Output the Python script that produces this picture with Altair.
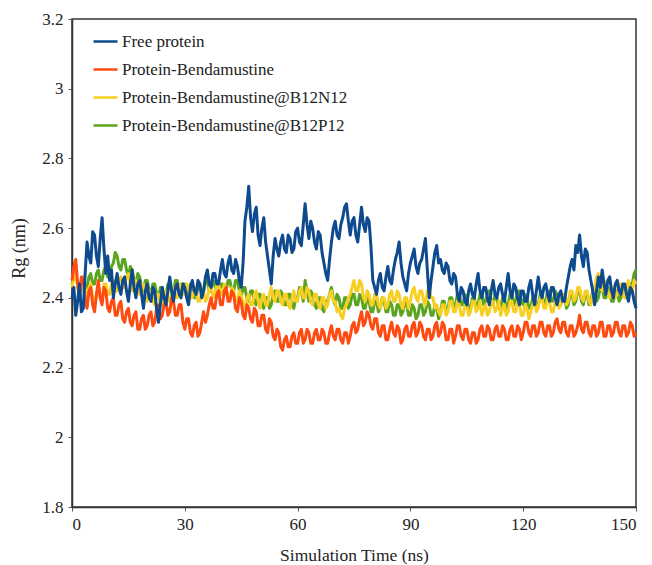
import altair as alt
import pandas as pd

series_names = [
    "Free protein",
    "Protein-Bendamustine",
    "Protein-Bendamustine@B12N12",
    "Protein-Bendamustine@B12P12",
]
series_colors = ["#0E4A8E", "#FF4A12", "#F6CF22", "#5BA420"]

free_protein = [
    2.40, 2.43, 2.35, 2.39, 2.44, 2.36, 2.37, 2.47,
    2.56, 2.52, 2.50, 2.59, 2.58, 2.52, 2.49, 2.57,
    2.63, 2.54, 2.47, 2.52,
    2.45, 2.48, 2.40, 2.44, 2.47, 2.43, 2.41, 2.45, 2.46, 2.42,
    2.39, 2.44, 2.48, 2.43, 2.40, 2.44, 2.45, 2.41, 2.37, 2.42,
    2.44, 2.40, 2.39, 2.43, 2.42, 2.37, 2.33, 2.38, 2.43, 2.40,
    2.38, 2.42, 2.46, 2.42, 2.39, 2.43, 2.44, 2.41, 2.40, 2.44,
    2.43, 2.40, 2.38, 2.43, 2.45, 2.42, 2.41, 2.45, 2.44, 2.40,
    2.42, 2.46, 2.48, 2.44, 2.43, 2.47, 2.47, 2.44, 2.44, 2.48,
    2.51, 2.47, 2.46, 2.50, 2.52, 2.48, 2.47, 2.51, 2.49, 2.45,
    2.43, 2.50, 2.62, 2.66, 2.72, 2.63, 2.59, 2.64, 2.66, 2.58,
    2.55, 2.60, 2.63, 2.56, 2.52, 2.48, 2.44, 2.52, 2.57, 2.54,
    2.52, 2.56, 2.58, 2.54, 2.53, 2.58, 2.57, 2.53, 2.54, 2.59,
    2.60, 2.56, 2.55, 2.61, 2.67, 2.61, 2.57, 2.62, 2.60, 2.56,
    2.54, 2.59, 2.58, 2.53, 2.50, 2.47, 2.45, 2.51, 2.56, 2.60,
    2.62, 2.58, 2.57, 2.61, 2.63, 2.66, 2.67, 2.62, 2.58, 2.62,
    2.63, 2.58, 2.56, 2.61, 2.66, 2.61, 2.59, 2.63, 2.62, 2.55,
    2.45, 2.43, 2.41, 2.45, 2.47, 2.43, 2.42, 2.46, 2.49, 2.45,
    2.44, 2.48, 2.51, 2.53, 2.56, 2.50, 2.46, 2.44, 2.42, 2.47,
    2.50, 2.52, 2.54, 2.49, 2.47, 2.50, 2.51, 2.54, 2.57, 2.48,
    2.40, 2.45, 2.49, 2.53, 2.55, 2.50, 2.51, 2.48, 2.47, 2.50,
    2.49, 2.45, 2.44, 2.47, 2.46, 2.41, 2.39, 2.43, 2.42, 2.39,
    2.38, 2.42, 2.44, 2.41, 2.40, 2.44, 2.47, 2.42, 2.40, 2.43,
    2.43, 2.40, 2.38, 2.42, 2.45, 2.41, 2.40, 2.43, 2.44, 2.41,
    2.39, 2.43, 2.47, 2.42, 2.40, 2.44, 2.43, 2.40, 2.38, 2.42,
    2.42, 2.39, 2.39, 2.43, 2.45, 2.41, 2.38, 2.42, 2.46, 2.42,
    2.40, 2.43, 2.44, 2.41, 2.39, 2.43, 2.43, 2.40, 2.38, 2.41,
    2.42, 2.39, 2.39, 2.43, 2.46, 2.49, 2.51, 2.48, 2.55, 2.53,
    2.58, 2.52, 2.49, 2.54, 2.53, 2.48, 2.45, 2.42, 2.38, 2.42,
    2.46, 2.43, 2.48, 2.44, 2.41, 2.45, 2.46, 2.42, 2.40, 2.44,
    2.45, 2.42, 2.41, 2.44, 2.44, 2.41, 2.39, 2.43, 2.42, 2.39,
    2.37,
]

protein_bendamustine = [
    2.45, 2.49, 2.51, 2.44, 2.40, 2.46, 2.45, 2.39, 2.37, 2.42,
    2.43, 2.38, 2.36, 2.41, 2.45, 2.40, 2.38, 2.43, 2.42, 2.37,
    2.36, 2.39, 2.40, 2.35, 2.35, 2.38, 2.39, 2.34, 2.33, 2.36,
    2.37, 2.33, 2.32, 2.35, 2.36, 2.31, 2.31, 2.34, 2.35, 2.31,
    2.32, 2.35, 2.36, 2.32, 2.33, 2.37, 2.38, 2.34, 2.35, 2.38,
    2.39, 2.35, 2.36, 2.40, 2.39, 2.35, 2.35, 2.38, 2.38, 2.33,
    2.31, 2.34, 2.34, 2.30, 2.29, 2.32, 2.33, 2.29, 2.30, 2.33,
    2.36, 2.33, 2.35, 2.38, 2.40, 2.37, 2.37, 2.41, 2.42, 2.38,
    2.38, 2.42, 2.43, 2.39, 2.39, 2.42, 2.41, 2.37, 2.36, 2.40,
    2.39, 2.35, 2.34, 2.38, 2.37, 2.34, 2.33, 2.37, 2.36, 2.32,
    2.32, 2.35, 2.35, 2.31, 2.30, 2.34, 2.33, 2.29, 2.28, 2.31,
    2.30, 2.26, 2.25, 2.28, 2.29, 2.26, 2.26, 2.29, 2.30, 2.27,
    2.27, 2.30, 2.31, 2.27, 2.28, 2.31, 2.30, 2.27, 2.27, 2.30,
    2.31, 2.28, 2.28, 2.31, 2.30, 2.27, 2.27, 2.30, 2.32, 2.29,
    2.28, 2.31, 2.31, 2.28, 2.27, 2.30, 2.30, 2.27, 2.29, 2.32,
    2.33, 2.30, 2.31, 2.34, 2.36, 2.32, 2.33, 2.36, 2.35, 2.32,
    2.31, 2.34, 2.34, 2.30, 2.29, 2.32, 2.32, 2.28, 2.28, 2.31,
    2.33, 2.30, 2.29, 2.32, 2.31, 2.27, 2.28, 2.31, 2.32, 2.29,
    2.29, 2.32, 2.33, 2.29, 2.30, 2.33, 2.32, 2.29, 2.28, 2.31,
    2.31, 2.28, 2.29, 2.32, 2.33, 2.29, 2.30, 2.33, 2.32, 2.28,
    2.28, 2.31, 2.31, 2.27, 2.29, 2.32, 2.32, 2.29, 2.28, 2.31,
    2.31, 2.28, 2.27, 2.30, 2.30, 2.27, 2.28, 2.31, 2.32, 2.29,
    2.29, 2.32, 2.31, 2.28, 2.28, 2.31, 2.32, 2.29, 2.29, 2.32,
    2.31, 2.28, 2.28, 2.31, 2.32, 2.29, 2.29, 2.32, 2.31, 2.28,
    2.30, 2.33, 2.33, 2.30, 2.29, 2.32, 2.32, 2.29, 2.30, 2.33,
    2.33, 2.30, 2.29, 2.32, 2.32, 2.29, 2.30, 2.33, 2.34, 2.31,
    2.30, 2.33, 2.33, 2.30, 2.29, 2.32, 2.32, 2.29, 2.30, 2.32,
    2.35, 2.31, 2.30, 2.33, 2.33, 2.30, 2.29, 2.32, 2.32, 2.29,
    2.30, 2.33, 2.33, 2.29, 2.29, 2.32, 2.32, 2.29, 2.30, 2.33,
    2.33, 2.30, 2.29, 2.32, 2.32, 2.29, 2.30, 2.33, 2.32, 2.29,
    2.30,
]

b12n12 = [
    2.43, 2.46, 2.47, 2.43, 2.41, 2.45, 2.46, 2.42, 2.40, 2.43,
    2.44, 2.40, 2.38, 2.41, 2.43, 2.40, 2.40, 2.44, 2.44, 2.41,
    2.41, 2.44, 2.45, 2.42, 2.42, 2.45, 2.46, 2.43, 2.43, 2.46,
    2.47, 2.44, 2.42, 2.45, 2.45, 2.42, 2.41, 2.44, 2.44, 2.40,
    2.39, 2.42, 2.42, 2.39, 2.38, 2.41, 2.41, 2.38, 2.38, 2.41,
    2.42, 2.39, 2.39, 2.42, 2.43, 2.40, 2.40, 2.43, 2.44, 2.41,
    2.41, 2.44, 2.43, 2.40, 2.40, 2.43, 2.42, 2.39, 2.39, 2.42,
    2.42, 2.39, 2.40, 2.43, 2.43, 2.40, 2.41, 2.44, 2.44, 2.41,
    2.41, 2.44, 2.43, 2.40, 2.40, 2.43, 2.42, 2.39, 2.39, 2.42,
    2.41, 2.38, 2.37, 2.40, 2.41, 2.38, 2.38, 2.41, 2.42, 2.39,
    2.37, 2.40, 2.41, 2.38, 2.38, 2.41, 2.43, 2.40, 2.39, 2.42,
    2.42, 2.39, 2.38, 2.41, 2.41, 2.38, 2.37, 2.40, 2.42, 2.39,
    2.39, 2.42, 2.43, 2.40, 2.40, 2.43, 2.42, 2.39, 2.38, 2.41,
    2.41, 2.38, 2.37, 2.40, 2.40, 2.37, 2.38, 2.41, 2.42, 2.39,
    2.39, 2.36, 2.37, 2.35, 2.34, 2.37, 2.38, 2.40, 2.41, 2.43,
    2.45, 2.42, 2.42, 2.45, 2.44, 2.40, 2.39, 2.42, 2.41, 2.38,
    2.38, 2.41, 2.41, 2.38, 2.37, 2.40, 2.40, 2.37, 2.38, 2.41,
    2.42, 2.39, 2.39, 2.42, 2.41, 2.38, 2.37, 2.40, 2.40, 2.37,
    2.39, 2.42, 2.43, 2.40, 2.39, 2.42, 2.42, 2.39, 2.38, 2.42,
    2.43, 2.40, 2.40, 2.37, 2.38, 2.36, 2.35, 2.38, 2.38, 2.35,
    2.36, 2.39, 2.39, 2.36, 2.36, 2.39, 2.38, 2.35, 2.35, 2.38,
    2.38, 2.35, 2.36, 2.39, 2.39, 2.36, 2.37, 2.39, 2.35, 2.37,
    2.38, 2.35, 2.36, 2.39, 2.39, 2.36, 2.37, 2.39, 2.35, 2.37,
    2.38, 2.35, 2.36, 2.39, 2.39, 2.36, 2.36, 2.39, 2.38, 2.35,
    2.35, 2.38, 2.37, 2.34, 2.36, 2.38, 2.39, 2.36, 2.37, 2.40,
    2.40, 2.37, 2.37, 2.40, 2.39, 2.36, 2.36, 2.39, 2.40, 2.37,
    2.38, 2.41, 2.41, 2.38, 2.39, 2.42, 2.42, 2.39, 2.40, 2.43,
    2.43, 2.40, 2.39, 2.42, 2.42, 2.39, 2.38, 2.41, 2.43, 2.46,
    2.47, 2.43, 2.42, 2.45, 2.44, 2.41, 2.40, 2.43, 2.43, 2.40,
    2.41, 2.44, 2.44, 2.41, 2.40, 2.43, 2.45, 2.42, 2.42, 2.45,
    2.44,
]

b12p12 = [
    2.44, 2.46, 2.47, 2.44, 2.42, 2.45, 2.46, 2.43, 2.43, 2.46,
    2.47, 2.44, 2.44, 2.47, 2.48, 2.45, 2.45, 2.48, 2.49, 2.46,
    2.46, 2.49, 2.50, 2.53, 2.52, 2.49, 2.48, 2.51, 2.51, 2.48,
    2.46, 2.49, 2.48, 2.45, 2.44, 2.47, 2.46, 2.43, 2.42, 2.45,
    2.45, 2.42, 2.41, 2.44, 2.44, 2.41, 2.40, 2.43, 2.43, 2.40,
    2.41, 2.44, 2.44, 2.41, 2.42, 2.45, 2.45, 2.42, 2.41, 2.44,
    2.44, 2.41, 2.41, 2.44, 2.43, 2.40, 2.40, 2.43, 2.44, 2.41,
    2.42, 2.45, 2.45, 2.42, 2.42, 2.45, 2.44, 2.41, 2.41, 2.44,
    2.44, 2.41, 2.42, 2.45, 2.45, 2.42, 2.42, 2.45, 2.45, 2.42,
    2.40, 2.43, 2.43, 2.40, 2.39, 2.42, 2.42, 2.39, 2.38, 2.41,
    2.41, 2.38, 2.37, 2.40, 2.40, 2.37, 2.38, 2.41, 2.42, 2.39,
    2.39, 2.42, 2.41, 2.38, 2.38, 2.41, 2.41, 2.38, 2.37, 2.40,
    2.40, 2.43, 2.42, 2.39, 2.45, 2.42, 2.39, 2.42, 2.41, 2.38,
    2.37, 2.40, 2.40, 2.37, 2.36, 2.39, 2.39, 2.41, 2.43, 2.40,
    2.38, 2.41, 2.40, 2.37, 2.37, 2.40, 2.40, 2.37, 2.38, 2.41,
    2.41, 2.38, 2.38, 2.41, 2.40, 2.37, 2.37, 2.40, 2.39, 2.36,
    2.36, 2.39, 2.39, 2.36, 2.37, 2.40, 2.39, 2.36, 2.36, 2.39,
    2.38, 2.35, 2.35, 2.38, 2.38, 2.35, 2.36, 2.39, 2.38, 2.35,
    2.35, 2.38, 2.37, 2.34, 2.35, 2.38, 2.38, 2.35, 2.36, 2.39,
    2.38, 2.35, 2.35, 2.38, 2.37, 2.34, 2.36, 2.39, 2.39, 2.36,
    2.37, 2.40, 2.40, 2.37, 2.38, 2.41, 2.41, 2.38, 2.38, 2.41,
    2.40, 2.37, 2.37, 2.40, 2.40, 2.37, 2.38, 2.41, 2.41, 2.38,
    2.39, 2.42, 2.42, 2.39, 2.38, 2.41, 2.40, 2.37, 2.37, 2.40,
    2.40, 2.37, 2.38, 2.41, 2.41, 2.38, 2.39, 2.42, 2.42, 2.39,
    2.38, 2.41, 2.40, 2.37, 2.37, 2.40, 2.40, 2.37, 2.38, 2.41,
    2.41, 2.38, 2.39, 2.42, 2.42, 2.39, 2.39, 2.42, 2.41, 2.38,
    2.38, 2.41, 2.40, 2.37, 2.38, 2.41, 2.41, 2.38, 2.39, 2.42,
    2.42, 2.39, 2.38, 2.41, 2.41, 2.38, 2.39, 2.42, 2.42, 2.39,
    2.40, 2.43, 2.43, 2.40, 2.40, 2.43, 2.42, 2.39, 2.39, 2.42,
    2.42, 2.39, 2.40, 2.43, 2.43, 2.40, 2.41, 2.44, 2.44, 2.47,
    2.48,
]

x_ticks = [0, 30, 60, 90, 120, 150]
y_ticks = [1.8, 2.0, 2.2, 2.4, 2.6, 2.8, 3.0, 3.2]
time_step_ns = 0.5

all_values = [free_protein, protein_bendamustine, b12n12, b12p12]
rows = []
for name, vals in zip(series_names, all_values):
    for i, v in enumerate(vals):
        rows.append({"time": i * time_step_ns, "rg": v, "series": name})
df = pd.DataFrame(rows)

FONT = "Liberation Serif"

color = alt.Color(
    "series:N",
    scale=alt.Scale(domain=series_names, range=series_colors),
    title=None,
    legend=alt.Legend(
        orient="none",
        legendX=20,
        legendY=9,
        symbolType="stroke",
        symbolSize=576,
        symbolStrokeWidth=2.5,
        labelFont=FONT,
        labelFontSize=17,
        labelColor="#222222",
        labelOffset=3,
        labelLimit=0,
        rowPadding=6,
        padding=0,
    ),
)

x = alt.X(
    "time:Q",
    scale=alt.Scale(domain=[0, 150], nice=False),
    axis=alt.Axis(values=x_ticks, title="Simulation Time (ns)", format="d"),
)
y = alt.Y(
    "rg:Q",
    scale=alt.Scale(domain=[1.8, 3.2], nice=False, zero=False),
    axis=alt.Axis(values=y_ticks, title="Rg (nm)", format="~g"),
)

draw_order = [
    "Protein-Bendamustine@B12P12",
    "Protein-Bendamustine@B12N12",
    "Protein-Bendamustine",
    "Free protein",
]

layers = []
for name in draw_order:
    layers.append(
        alt.Chart(df)
        .transform_filter(alt.datum.series == name)
        .mark_line(strokeWidth=3, strokeJoin="round")
        .encode(x=x, y=y, color=color)
    )

chart = (
    alt.layer(*layers)
    .properties(
        width=564,
        height=488,
        autosize=alt.AutoSizeParams(type="none"),
        padding={"left": 72, "top": 19, "right": 16, "bottom": 58},
        background="white",
    )
    .configure(font=FONT)
    .configure_view(stroke="#333333", strokeWidth=1.5)
    .configure_legend(labelFont=FONT)
    .configure_axis(
        grid=False,
        domainColor="#333333",
        domainWidth=1.5,
        tickColor="#555555",
        tickSize=4,
        labelFont=FONT,
        labelFontSize=17,
        labelColor="#222222",
        titleFont=FONT,
        titleFontWeight="normal",
        titleColor="#222222",
    )
    .configure_axisX(labelPadding=5, titlePadding=14, titleFontSize=17.5)
    .configure_axisY(
        labelPadding=5,
        titleFontSize=18,
        titleX=-53,
        titleY=229,
        titleAlign="center",
        titleBaseline="middle",
    )
)

chart.save("out.html", embed_options={"renderer": "svg", "actions": False})
